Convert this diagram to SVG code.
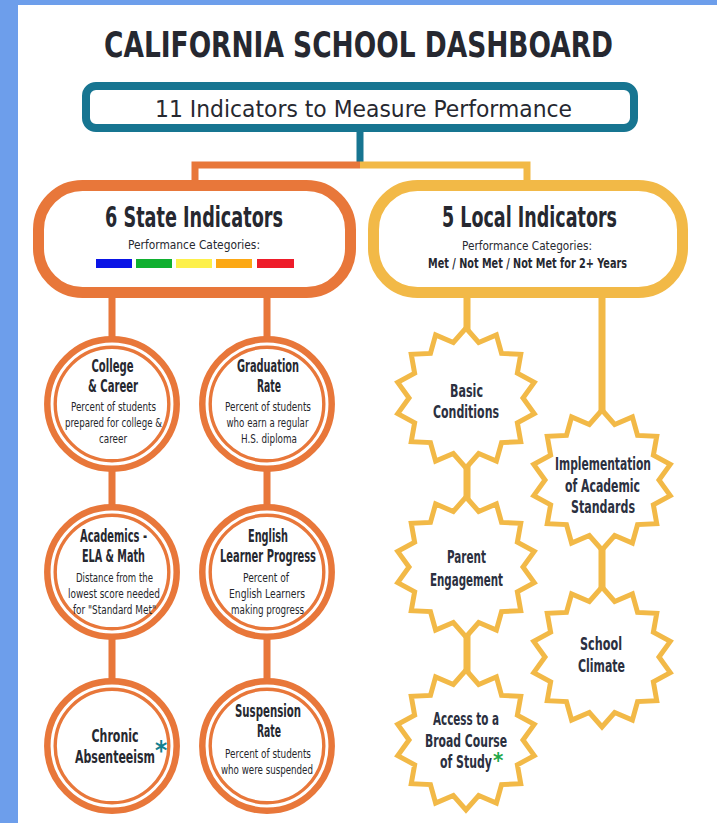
<svg xmlns="http://www.w3.org/2000/svg" xmlns:xlink="http://www.w3.org/1999/xlink" width="717" height="823" viewBox="0 0 717 823">
<defs>
<style>
.nar{font-family:"Liberation Sans Narrow","DejaVu Sans Condensed","Liberation Sans",sans-serif;fill:#262830}
.hd{font-weight:bold}
.sub{font-size:11.5px;fill:#26272c}
.ct{font-size:17px;font-weight:bold}
.st{font-size:18px;font-weight:bold;fill:#2b3040}
.oline{stroke:#e8773a;stroke-width:7;fill:none}
.yline{stroke:#f2b947;stroke-width:7;fill:none}
.ring1{fill:#fff;stroke:#e8773a;stroke-width:6.5}
.ring2{fill:none;stroke:#e8773a;stroke-width:3.4}
.starp{fill:#fff;stroke:#f2b947;stroke-width:5;stroke-linejoin:miter}
</style>
<path id="star" class="starp" d="M0,-70 L12.68,-55.57 L30.37,-63.07 L35.54,-44.56 L54.73,-43.65 L51.36,-24.73 L68.24,-15.58 L57,0 L68.24,15.58 L51.36,24.73 L54.73,43.65 L35.54,44.56 L30.37,63.07 L12.68,55.57 L0,70 L-12.68,55.57 L-30.37,63.07 L-35.54,44.56 L-54.73,43.65 L-51.36,24.73 L-68.24,15.58 L-57,0 L-68.24,-15.58 L-51.36,-24.73 L-54.73,-43.65 L-35.54,-44.56 L-30.37,-63.07 L-12.68,-55.57 Z"/>
<g id="dring"><circle r="64.7" class="ring1"/><circle r="56.8" class="ring2"/></g>
</defs>
<rect x="0" y="0" width="717" height="823" fill="#fff"/>
<rect x="0" y="0" width="717" height="5" fill="#6d9eeb"/>
<rect x="0" y="0" width="18" height="823" fill="#6d9eeb"/>

<text class="nar hd" x="358.5" y="57" font-size="35" text-anchor="middle" textLength="509" lengthAdjust="spacingAndGlyphs">CALIFORNIA SCHOOL DASHBOARD</text>

<g id="connectors">
<path d="M360 128 V163" stroke="#177591" stroke-width="7" fill="none"/>
<path class="oline" d="M195 186 V165 H360" stroke-width="6.5"/>
<path class="yline" d="M360 165 H527 V186" stroke-width="6.5"/>
<path class="oline" d="M112 292 V746"/>
<path class="oline" d="M267 292 V746"/>
<path class="yline" d="M467 292 V740"/>
<path class="yline" d="M602 292 V657"/>
</g>

<g id="top">
<rect x="86" y="86" width="548" height="42" rx="10" fill="#fff" stroke="#177591" stroke-width="8"/>
<text class="nar" x="363.5" y="117" font-size="23" text-anchor="middle" textLength="417" lengthAdjust="spacingAndGlyphs">11 Indicators to Measure Performance</text>
</g>

<g id="state">
<rect x="38.5" y="185.5" width="312" height="107" rx="44" fill="#fff" stroke="#e8773a" stroke-width="11"/>
<text class="nar hd" x="194" y="227" font-size="28" text-anchor="middle" textLength="178" lengthAdjust="spacingAndGlyphs">6 State Indicators</text>
<text class="nar" x="194" y="249" font-size="12.5" text-anchor="middle" textLength="132" lengthAdjust="spacingAndGlyphs">Performance Categories:</text>
<rect x="96" y="259" width="36" height="9" fill="#0a14e6"/>
<rect x="136" y="259" width="36" height="9" fill="#10b030"/>
<rect x="176" y="259" width="36" height="9" fill="#fdf04a"/>
<rect x="216" y="259" width="36" height="9" fill="#fca814"/>
<rect x="257" y="259" width="37" height="9" fill="#ee1c2a"/>
</g>

<g id="local">
<rect x="373.5" y="185.5" width="309" height="107" rx="44" fill="#fff" stroke="#f2b947" stroke-width="11"/>
<text class="nar hd" x="529.5" y="227" font-size="28" text-anchor="middle" textLength="175" lengthAdjust="spacingAndGlyphs">5 Local Indicators</text>
<text class="nar" x="527" y="250" font-size="12.5" text-anchor="middle" textLength="130" lengthAdjust="spacingAndGlyphs">Performance Categories:</text>
<text class="nar hd" x="527.5" y="268" font-size="13.5" text-anchor="middle" textLength="199" lengthAdjust="spacingAndGlyphs">Met / Not Met / Not Met for 2+ Years</text>
</g>

<g id="college">
<use xlink:href="#dring" x="112" y="404"/>
<text class="nar ct" x="112.5" y="372" text-anchor="middle" textLength="42" lengthAdjust="spacingAndGlyphs">College</text>
<text class="nar ct" x="113" y="392" text-anchor="middle" textLength="50" lengthAdjust="spacingAndGlyphs">&amp; Career</text>
<text class="nar sub" x="113.5" y="411" text-anchor="middle" textLength="85" lengthAdjust="spacingAndGlyphs">Percent of students</text>
<text class="nar sub" x="113.5" y="427" text-anchor="middle" textLength="97" lengthAdjust="spacingAndGlyphs">prepared for college &amp;</text>
<text class="nar sub" x="113" y="443" text-anchor="middle" textLength="28" lengthAdjust="spacingAndGlyphs">career</text>
</g>

<g id="graduation">
<use xlink:href="#dring" x="267" y="404"/>
<text class="nar ct" x="268" y="372" text-anchor="middle" textLength="62" lengthAdjust="spacingAndGlyphs">Graduation</text>
<text class="nar ct" x="269" y="392" text-anchor="middle" textLength="24" lengthAdjust="spacingAndGlyphs">Rate</text>
<text class="nar sub" x="268" y="411" text-anchor="middle" textLength="86" lengthAdjust="spacingAndGlyphs">Percent of students</text>
<text class="nar sub" x="267.5" y="427" text-anchor="middle" textLength="82" lengthAdjust="spacingAndGlyphs">who earn a regular</text>
<text class="nar sub" x="269" y="443" text-anchor="middle" textLength="56" lengthAdjust="spacingAndGlyphs">H.S. diploma</text>
</g>

<g id="academics">
<use xlink:href="#dring" x="112" y="572"/>
<text class="nar ct" x="113.5" y="542" text-anchor="middle" textLength="67" lengthAdjust="spacingAndGlyphs">Academics -</text>
<text class="nar ct" x="113.5" y="562" text-anchor="middle" textLength="63" lengthAdjust="spacingAndGlyphs">ELA &amp; Math</text>
<text class="nar sub" x="114.5" y="582" text-anchor="middle" textLength="77" lengthAdjust="spacingAndGlyphs">Distance from the</text>
<text class="nar sub" x="114" y="598" text-anchor="middle" textLength="92" lengthAdjust="spacingAndGlyphs">lowest score needed</text>
<text class="nar sub" x="114.5" y="614" text-anchor="middle" textLength="83" lengthAdjust="spacingAndGlyphs">for "Standard Met"</text>
</g>

<g id="english">
<use xlink:href="#dring" x="267" y="572"/>
<text class="nar ct" x="268" y="542" text-anchor="middle" textLength="40" lengthAdjust="spacingAndGlyphs">English</text>
<text class="nar ct" x="268" y="562" text-anchor="middle" textLength="96" lengthAdjust="spacingAndGlyphs">Learner Progress</text>
<text class="nar sub" x="266" y="582" text-anchor="middle" textLength="46" lengthAdjust="spacingAndGlyphs">Percent of</text>
<text class="nar sub" x="267" y="598" text-anchor="middle" textLength="76" lengthAdjust="spacingAndGlyphs">English Learners</text>
<text class="nar sub" x="267.5" y="614" text-anchor="middle" textLength="73" lengthAdjust="spacingAndGlyphs">making progress</text>
</g>

<g id="chronic">
<use xlink:href="#dring" x="112" y="746"/>
<text class="nar ct" x="115" y="742" text-anchor="middle" textLength="47" lengthAdjust="spacingAndGlyphs">Chronic</text>
<text class="nar ct" x="75" y="763"><tspan textLength="80" lengthAdjust="spacingAndGlyphs">Absenteeism</tspan><tspan dy="-3" font-size="26" style="fill:#16808f">*</tspan></text>
</g>

<g id="suspension">
<use xlink:href="#dring" x="267" y="746"/>
<text class="nar ct" x="268" y="717" text-anchor="middle" textLength="66" lengthAdjust="spacingAndGlyphs">Suspension</text>
<text class="nar ct" x="269" y="737" text-anchor="middle" textLength="24" lengthAdjust="spacingAndGlyphs">Rate</text>
<text class="nar sub" x="268" y="758" text-anchor="middle" textLength="86" lengthAdjust="spacingAndGlyphs">Percent of students</text>
<text class="nar sub" x="267" y="774" text-anchor="middle" textLength="92" lengthAdjust="spacingAndGlyphs">who were suspended</text>
</g>

<g id="basic">
<use xlink:href="#star" x="466" y="398"/>
<text class="nar st" x="466.5" y="397" text-anchor="middle" textLength="33" lengthAdjust="spacingAndGlyphs">Basic</text>
<text class="nar st" x="466" y="418" text-anchor="middle" textLength="66" lengthAdjust="spacingAndGlyphs">Conditions</text>
</g>

<g id="implementation">
<use xlink:href="#star" x="602" y="480"/>
<text class="nar st" x="603" y="470" text-anchor="middle" textLength="96" lengthAdjust="spacingAndGlyphs">Implementation</text>
<text class="nar st" x="602.5" y="492" text-anchor="middle" textLength="75" lengthAdjust="spacingAndGlyphs">of Academic</text>
<text class="nar st" x="603" y="513" text-anchor="middle" textLength="64" lengthAdjust="spacingAndGlyphs">Standards</text>
</g>

<g id="parent">
<use xlink:href="#star" x="466" y="567"/>
<text class="nar st" x="466.5" y="563" text-anchor="middle" textLength="39" lengthAdjust="spacingAndGlyphs">Parent</text>
<text class="nar st" x="466.5" y="586" text-anchor="middle" textLength="73" lengthAdjust="spacingAndGlyphs">Engagement</text>
</g>

<g id="climate">
<use xlink:href="#star" x="602" y="657"/>
<text class="nar st" x="601" y="650" text-anchor="middle" textLength="42" lengthAdjust="spacingAndGlyphs">School</text>
<text class="nar st" x="601.5" y="672" text-anchor="middle" textLength="47" lengthAdjust="spacingAndGlyphs">Climate</text>
</g>

<g id="access">
<use xlink:href="#star" x="466" y="740"/>
<text class="nar st" x="466" y="725" text-anchor="middle" textLength="66" lengthAdjust="spacingAndGlyphs">Access to a</text>
<text class="nar st" x="466" y="747" text-anchor="middle" textLength="82" lengthAdjust="spacingAndGlyphs">Broad Course</text>
<text class="nar st" x="440" y="768"><tspan textLength="52" lengthAdjust="spacingAndGlyphs">of Study</tspan><tspan dx="1" dy="0" font-size="22" style="fill:#1fa84a">*</tspan></text>
</g>
</svg>
